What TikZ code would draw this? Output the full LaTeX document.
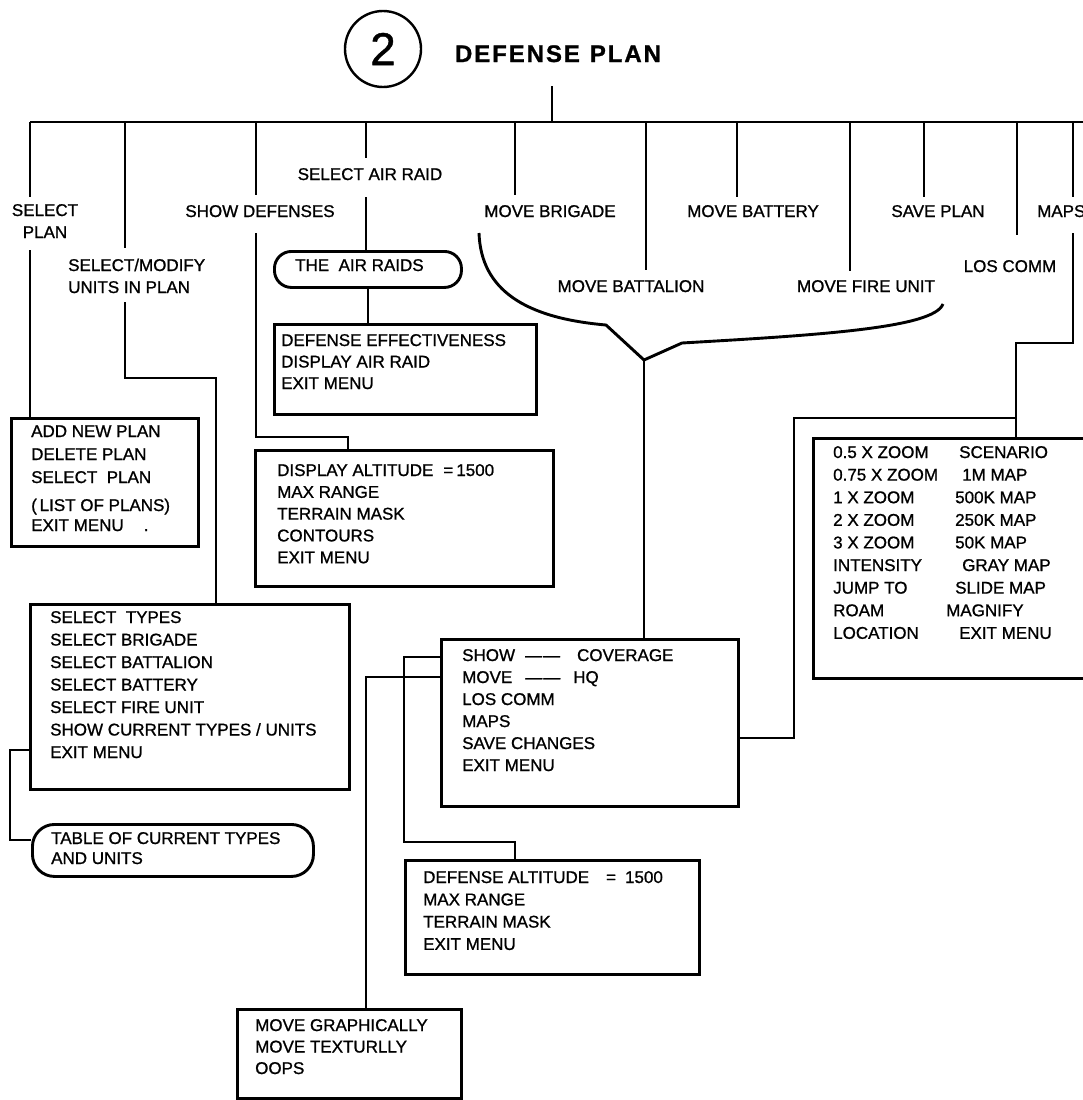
\documentclass[tikz,border=0pt]{standalone}
\usepackage{fontspec}
\setmainfont{Liberation Sans}[FakeBold=1]
\newfontfamily\titlefont[LetterSpace=8,FakeBold=1]{Liberation Sans}
\newcommand\mlines[1]{\parbox[t]{330pt}{\raggedright #1}}
\newcommand\clines[1]{\parbox[t]{90pt}{\centering #1}}
\begin{document}
\begin{tikzpicture}[x=1pt,y=-1pt,
  ln/.style={line width=2.9pt},
  box/.style={draw, line width=2.9pt, rectangle, inner sep=0pt, anchor=north west},
  mt/.style={anchor=base west, inner sep=0pt, font=\fontsize{17}{#1}\selectfont},
  mt/.default=22.5,
  lbl/.style={anchor=base, inner sep=0pt, font=\fontsize{17}{22}\selectfont},
  lblw/.style={anchor=base west, inner sep=0pt, font=\fontsize{17}{22}\selectfont}]
\useasboundingbox (0,0) rectangle (1083,1100);

% ---------- title ----------
\node[circle, draw, line width=2.4pt, minimum size=76pt, inner sep=0pt,
      font=\fontsize{46}{46}\selectfont] (num) at (383,49) {2};
\node[anchor=base, inner sep=0pt, font={\titlefont\fontsize{24}{24}\selectfont\bfseries}]
      (title) at (558,62) {DEFENSE\hspace{10pt}PLAN};

% ---------- top bus ----------
\coordinate (tv) at (552,86);
\coordinate (topL) at (30,122);
\coordinate (topR) at (1095,122);
\draw[ln] (topL) -- (topR);
\draw[ln] (tv) -- (tv |- topL);

% ---------- boxes ----------
\node[box, minimum width=187pt, minimum height=128pt] (addplan) at (10,417) {};
\node[box, minimum width=319pt, minimum height=185pt] (seltypes) at (29,603) {};
\node[box, rounded corners=22pt, minimum width=281pt, minimum height=52pt] (table) at (31,823) {};
\node[box, minimum width=298pt, minimum height=136pt] (dispalt) at (254,449) {};
\node[box, minimum width=262pt, minimum height=90pt] (defeff) at (273,323) {};
\node[box, rounded corners=17pt, minimum width=187pt, minimum height=36pt] (airraids) at (273,250) {};
\node[box, minimum width=297pt, minimum height=167pt] (showbox) at (440,638) {};
\node[box, minimum width=294pt, minimum height=114pt] (defalt) at (404,859) {};
\node[box, minimum width=224pt, minimum height=89pt] (movegr) at (236,1008) {};
\node[box, minimum width=290pt, minimum height=240pt] (mapbox) at (812,437) {};

% ---------- box texts ----------
\node[mt=23] (addplanT) at (31,437) {\mlines{ADD NEW PLAN\\DELETE PLAN\\SELECT\ \ PLAN\\[5pt](\,LIST OF PLANS)\\[-3pt]EXIT MENU\hspace{20pt}.}};
\node[mt=22.5] (seltypesT) at (50,623) {\mlines{SELECT\ \ TYPES\\SELECT BRIGADE\\SELECT BATTALION\\SELECT BATTERY\\SELECT FIRE UNIT\\SHOW CURRENT TYPES / UNITS\\EXIT MENU}};
\node[mt=20] (tableT) at (51,844) {\mlines{TABLE OF CURRENT TYPES\\AND UNITS}};
\node[mt=21.8] (dispaltT) at (277,476) {\mlines{DISPLAY ALTITUDE\hspace{10pt}=\hspace{3pt}1500\\MAX RANGE\\TERRAIN MASK\\CONTOURS\\EXIT MENU}};
\node[mt=21.5] (defeffT) at (281,346) {\mlines{DEFENSE EFFECTIVENESS\\DISPLAY AIR RAID\\EXIT MENU}};
\node[mt] (airraidsT) at (295,271) {THE\ \ AIR RAIDS};
\node[mt=22] (showboxT) at (462,661) {\mlines{SHOW\hspace{10pt}—\hspace{1pt}—\hspace{17pt}COVERAGE\\MOVE\hspace{13pt}—\hspace{1pt}—\hspace{13pt}HQ\\LOS COMM\\MAPS\\SAVE CHANGES\\EXIT MENU}};
\node[mt=22.3] (defaltT) at (423,883) {\mlines{DEFENSE ALTITUDE\hspace{17pt}=\hspace{9pt}1500\\MAX RANGE\\TERRAIN MASK\\EXIT MENU}};
\node[mt=21.5] (movegrT) at (255,1031) {\mlines{MOVE GRAPHICALLY\\MOVE TEXTURLLY\\OOPS}};
\node[mt=22.6] (mapL) at (833,458) {\mlines{0.5 X ZOOM\\0.75 X ZOOM\\1 X ZOOM\\2 X ZOOM\\3 X ZOOM\\INTENSITY\\JUMP TO\\ROAM\\LOCATION}};
\node[mt=22.6] (mapR) at (946,458) {\mlines{\hspace*{13pt}SCENARIO\\\hspace*{16pt}1M MAP\\\hspace*{9pt}500K MAP\\\hspace*{9pt}250K MAP\\\hspace*{9pt}50K MAP\\\hspace*{16pt}GRAY MAP\\\hspace*{9pt}SLIDE MAP\\MAGNIFY\\\hspace*{13pt}EXIT MENU}};

% ---------- branch labels ----------
\node[lbl] (lSelPlan) at (45,216) {\clines{SELECT\\PLAN}};
\node[lblw] (lSelMod) at (68,271) {\mlines{SELECT/MODIFY\\UNITS IN PLAN}};
\node[lbl] (lShowDef) at (260,217) {SHOW DEFENSES};
\node[lbl] (lAirRaid) at (370,180) {SELECT AIR RAID};
\node[lbl] (lBrig) at (550,217) {MOVE BRIGADE};
\node[lbl] (lBatt) at (631,292) {MOVE BATTALION};
\node[lbl] (lBatry) at (753,217) {MOVE BATTERY};
\node[lbl] (lFire) at (866,292) {MOVE FIRE UNIT};
\node[lbl] (lSave) at (938,217) {SAVE PLAN};
\node[lbl] (lLos) at (1010,272) {LOS COMM};
\node[lblw] (lMaps) at (1037,217) {MAPS};

% ---------- connectors ----------
% select plan
\coordinate (a0) at (30,122); \coordinate (a1) at (30,197); \coordinate (a2) at (30,250);
\draw[ln] (a0) -- (a1);
\draw[ln] (a2) -- (a2 |- addplan.north);
% select/modify
\coordinate (b0) at (125,122); \coordinate (b1) at (125,248); \coordinate (b2) at (125,302);
\coordinate (b3) at (125,378); \coordinate (b4) at (216,378);
\draw[ln] (b0) -- (b1);
\draw[ln] (b2) -- (b3) -- (b4) -- (b4 |- seltypes.north);
% show defenses
\coordinate (c0) at (256,122); \coordinate (c1) at (256,195); \coordinate (c2) at (256,233);
\coordinate (c3) at (256,437); \coordinate (c4) at (348,437);
\draw[ln] (c0) -- (c1);
\draw[ln] (c2) -- (c3) -- (c4) -- (c4 |- dispalt.north);
% select air raid
\coordinate (d0) at (366,122); \coordinate (d1) at (366,158); \coordinate (d2) at (366,197);
\draw[ln] (d0) -- (d1);
\draw[ln] (d2) -- (d2 |- airraids.north);
\draw[ln] (airraids.south) -- (airraids.south |- defeff.north);
% move brigade / battalion / battery / fire unit / save plan / los comm
\coordinate (e0) at (515,122); \coordinate (e1) at (515,195);
\draw[ln] (e0) -- (e1);
\coordinate (f0) at (646,122); \coordinate (f1) at (646,270);
\draw[ln] (f0) -- (f1);
\coordinate (g0) at (737,122); \coordinate (g1) at (737,197);
\draw[ln] (g0) -- (g1);
\coordinate (h0) at (850,122); \coordinate (h1) at (850,271);
\draw[ln] (h0) -- (h1);
\coordinate (i0) at (924,122); \coordinate (i1) at (924,197);
\draw[ln] (i0) -- (i1);
\coordinate (j0) at (1017,122); \coordinate (j1) at (1017,235);
\draw[ln] (j0) -- (j1);
% maps
\coordinate (k0) at (1073,122); \coordinate (k1) at (1073,197); \coordinate (k2) at (1073,233);
\coordinate (k3) at (1073,343); \coordinate (k4) at (1016,343);
\draw[ln] (k0) -- (k1);
\draw[ln] (k2) -- (k3) -- (k4) -- (k4 |- mapbox.north);
% brace over the move items
\coordinate (br1) at (479,233); \coordinate (br2) at (606,325);
\coordinate (junc) at (644,360);
\coordinate (br3) at (682,343); \coordinate (br4) at (943,304);
\draw[ln, line join=round] (br1) .. controls (481,290) and (525,318) .. (br2) -- (junc) -- (br3)
   .. controls (820,335) and (934,328) .. (br4);
\draw[ln] (junc) -- (junc |- showbox.north);
% maps connector from the show/move box
\coordinate (m1) at (794,738); \coordinate (m2) at (794,418); \coordinate (m3) at (1016,418);
\draw[ln] (showbox.east |- m1) -- (m1) -- (m2) -- (m3);
% show row -> defense altitude
\coordinate (s1) at (404,657); \coordinate (s2) at (404,842); \coordinate (s3) at (515,842);
\draw[ln] (showbox.west |- s1) -- (s1) -- (s2) -- (s3) -- (s3 |- defalt.north);
% move row -> move graphically
\coordinate (v1) at (366,677);
\draw[ln] (showbox.west |- v1) -- (v1) -- (v1 |- movegr.north);
% select types -> table
\coordinate (t1) at (10,750); \coordinate (t2) at (10,840);
\draw[ln] (seltypes.west |- t1) -- (t1) -- (t2) -- (table.west |- t2);
\end{tikzpicture}
\end{document}
